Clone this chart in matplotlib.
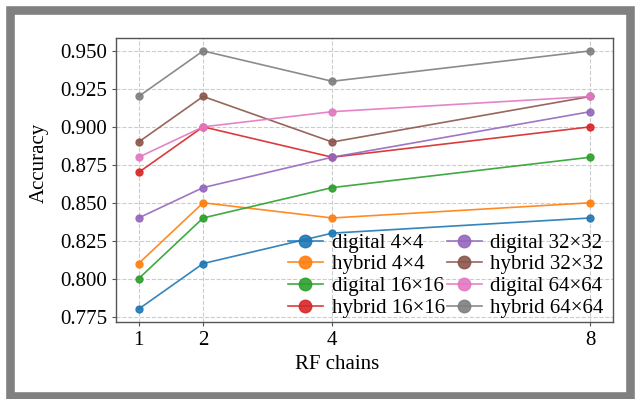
import matplotlib
matplotlib.use("Agg")
import matplotlib.pyplot as plt
from matplotlib.patches import Rectangle

rf_chains = [1, 2, 4, 8]
labels = ["digital 4×4", "hybrid 4×4", "digital 16×16", "hybrid 16×16",
          "digital 32×32", "hybrid 32×32", "digital 64×64", "hybrid 64×64"]
digital_4 = [0.78, 0.81, 0.83, 0.84]
hybrid_4 = [0.81, 0.85, 0.84, 0.85]
digital_16 = [0.80, 0.84, 0.86, 0.88]
hybrid_16 = [0.87, 0.90, 0.88, 0.90]
digital_32 = [0.84, 0.86, 0.88, 0.91]
hybrid_32 = [0.89, 0.92, 0.89, 0.92]
digital_64 = [0.88, 0.90, 0.91, 0.92]
hybrid_64 = [0.92, 0.95, 0.93, 0.95]
series = [digital_4, hybrid_4, digital_16, hybrid_16,
          digital_32, hybrid_32, digital_64, hybrid_64]
yticks = [0.775, 0.800, 0.825, 0.850, 0.875, 0.900, 0.925, 0.950]

plt.rcParams['font.family'] = ['Liberation Serif', 'DejaVu Serif']

fig = plt.figure(figsize=(6.36, 3.99), dpi=100)
ax = fig.add_axes([116/636, 1-322/399, (613-116)/636, (322-38)/399])

colors = plt.rcParams['axes.prop_cycle'].by_key()['color']
for i, (lab, vals) in enumerate(zip(labels, series)):
    ax.plot(rf_chains, vals, marker='o', markersize=5, lw=1.2,
            color=colors[i], label=lab, alpha=0.9)

ax.set_xticks(rf_chains)
ax.set_xticklabels([str(v) for v in rf_chains])
ax.set_yticks(yticks)
ax.set_yticklabels([f"{v:.3f}" for v in yticks])
ax.tick_params(labelsize=15, length=3, color='#555555')
ax.grid(True, ls='--', color='#cccccc', lw=0.8)
for s in ax.spines.values():
    s.set_color('#555555')
    s.set_linewidth(1.0)
ax.set_xlabel("RF chains", fontsize=15)
ax.set_ylabel("Accuracy", fontsize=15)
ax.xaxis.set_label_coords(0.445, -0.115)
ax.yaxis.set_label_coords(-0.135, 0.56)

ax.legend(ncol=2, loc='lower right', bbox_to_anchor=(0.99, 0.0),
          fontsize=15, frameon=False,
          markerscale=1.8, handlelength=1.7, handletextpad=0.4,
          columnspacing=0.1, labelspacing=0.1, borderaxespad=0.0,
          borderpad=0.2)

fig.patches.append(Rectangle((10/636, 3/399), 620/636, 386.5/399,
                             transform=fig.transFigure, fill=False,
                             edgecolor='#808080', lw=6.2))

fig.savefig("out.png", dpi=100)
